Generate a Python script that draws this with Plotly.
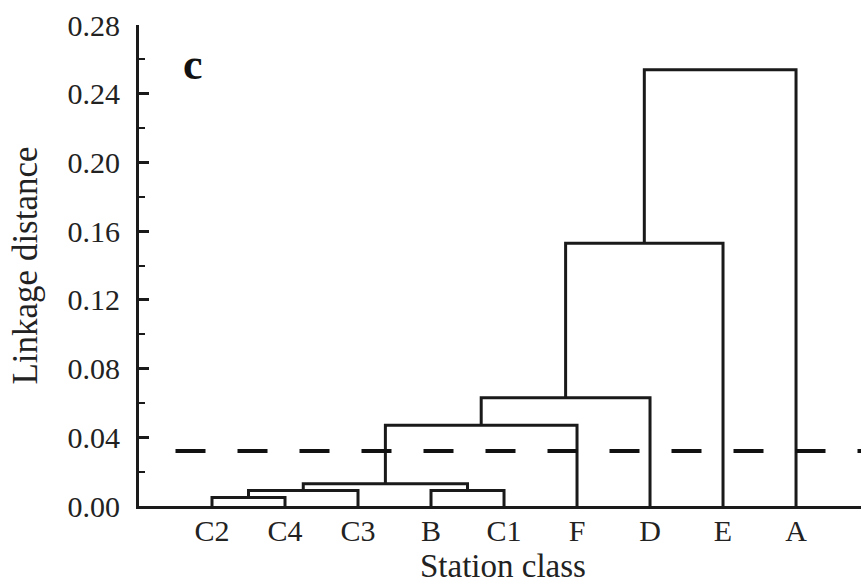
import plotly.graph_objects as go

# Leaf order along the x axis
leaves = ["C2", "C4", "C3", "B", "C1", "F", "D", "E", "A"]

# Agglomeration steps: "#k" refers to the cluster formed at step k
merge_left = ["C2", "B", "#0", "#2", "#3", "#4", "#5", "#6"]
merge_right = ["C4", "C1", "C3", "#1", "F", "D", "E", "A"]
merge_height = [0.005, 0.009, 0.009, 0.013, 0.047, 0.063, 0.153, 0.254]

# Cut-off level
cut_level = 0.032

y_ticks = [0.00, 0.04, 0.08, 0.12, 0.16, 0.20, 0.24, 0.28]

# Node positions: leaves at 1..n, clusters at midpoint of children
pos = {name: i + 1 for i, name in enumerate(leaves)}
height = {name: 0.0 for name in leaves}

xs, ys = [], []
for k, (a, b, h) in enumerate(zip(merge_left, merge_right, merge_height)):
    xa, xb = pos[a], pos[b]
    xs += [xa, xa, xb, xb, None]
    ys += [height[a], h, h, height[b], None]
    pos[f"#{k}"] = (xa + xb) / 2
    height[f"#{k}"] = h

x_max = 9.89
serif = "Liberation Serif"
ink = "#1a1a1a"

fig = go.Figure()
fig.add_trace(go.Scatter(
    x=xs, y=ys, mode="lines",
    line=dict(color=ink, width=3),
    hoverinfo="skip", showlegend=False,
))
fig.add_trace(go.Scatter(
    x=[0.5, x_max], y=[cut_level, cut_level], mode="lines",
    line=dict(color="#111111", width=4, dash="30px,32px"),
    hoverinfo="skip", showlegend=False,
))

# Panel letter
fig.add_annotation(
    x=0.74, y=0.257, xref="x", yref="y",
    text="<b>c</b>", showarrow=False, yanchor="middle",
    font=dict(family=serif, size=44, color="#111111"),
)

# X axis title, set just under the leaf labels
fig.add_annotation(
    x=(1 + len(leaves)) / 2 - 0.02, y=-0.166, xref="x", yref="paper",
    text="Station class", showarrow=False, yanchor="bottom",
    font=dict(family=serif, size=33, color="#222222"),
)

fig.update_layout(
    width=861, height=585,
    margin=dict(l=139, r=0, t=25, b=79),
    paper_bgcolor="white", plot_bgcolor="white",
    font=dict(family=serif, color="#222222"),
    xaxis=dict(
        range=[0, x_max],
        tickmode="array", tickvals=list(range(1, len(leaves) + 1)), ticktext=leaves,
        showline=True, linecolor=ink, linewidth=3,
        ticks="", showgrid=False, zeroline=False,
        ticklabelstandoff=-4,
        tickfont=dict(family=serif, size=30, color="#222222"),
    ),
    yaxis=dict(
        range=[0, 0.28],
        tickmode="array", tickvals=y_ticks, tickformat=".2f",
        showline=True, linecolor=ink, linewidth=3,
        ticks="inside", ticklen=10, tickwidth=3, tickcolor=ink,
        minor=dict(dtick=0.02, ticks="inside", ticklen=6, tickwidth=2,
                   tickcolor=ink, showgrid=False),
        showgrid=False, zeroline=False,
        ticklabelstandoff=10,
        tickfont=dict(family=serif, size=30, color="#222222"),
        title=dict(text="Linkage distance", standoff=20,
                   font=dict(family=serif, size=35, color="#222222")),
    ),
)

fig.write_html("out.html")
